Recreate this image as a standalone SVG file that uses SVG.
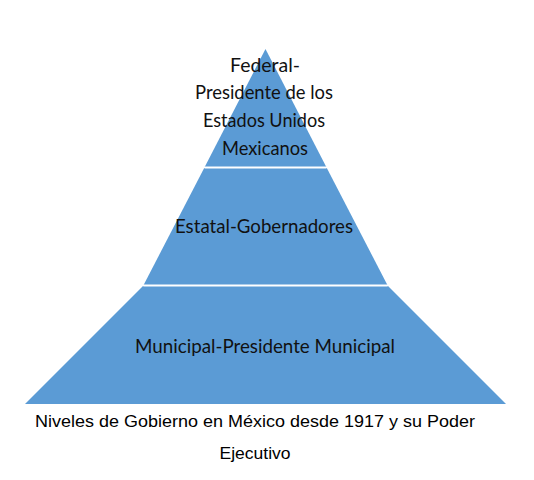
<svg xmlns="http://www.w3.org/2000/svg" width="534" height="480" viewBox="0 0 534 480">
<style>
.tier{fill:#5B9BD5;}
.sep{stroke:#FFFFFF;stroke-width:2;}
.lbl{font-family:Lato,"Open Sans","Liberation Sans",sans-serif;font-size:20px;fill:#111111;text-anchor:middle;}
.cap{font-family:"Liberation Sans",Arial,sans-serif;font-size:16.5px;fill:#000000;text-anchor:middle;}
</style>
<rect width="534" height="480" fill="#FFFFFF"/>
<g id="federal">
<polygon class="tier" points="265.5,49 326.3,167 204.7,167"/>
<text class="lbl" x="265" y="72" textLength="70" lengthAdjust="spacingAndGlyphs">Federal-</text>
<text class="lbl" x="264" y="99" textLength="138" lengthAdjust="spacingAndGlyphs">Presidente de los</text>
<text class="lbl" x="264" y="127" textLength="122" lengthAdjust="spacingAndGlyphs">Estados Unidos</text>
<text class="lbl" x="265" y="155" textLength="86" lengthAdjust="spacingAndGlyphs">Mexicanos</text>
</g>
<g id="estatal">
<polygon class="tier" points="204.2,168 326.8,168 387.4,285 143.6,285"/>
<text class="lbl" x="264" y="233" textLength="178" lengthAdjust="spacingAndGlyphs">Estatal-Gobernadores</text>
</g>
<g id="municipal">
<polygon class="tier" points="143,286 388,286 506,404 25,404"/>
<text class="lbl" x="265" y="353" textLength="260" lengthAdjust="spacingAndGlyphs">Municipal-Presidente Municipal</text>
</g>
<g id="connectors">
<line class="sep" x1="204.5" y1="167.5" x2="326.5" y2="167.5"/>
<line class="sep" x1="143.3" y1="285.5" x2="387.7" y2="285.5"/>
</g>
<g id="caption">
<text class="cap" x="255" y="427" textLength="440" lengthAdjust="spacingAndGlyphs">Niveles de Gobierno en México desde 1917 y su Poder</text>
<text class="cap" x="255" y="459" textLength="71" lengthAdjust="spacingAndGlyphs">Ejecutivo</text>
</g>
</svg>
